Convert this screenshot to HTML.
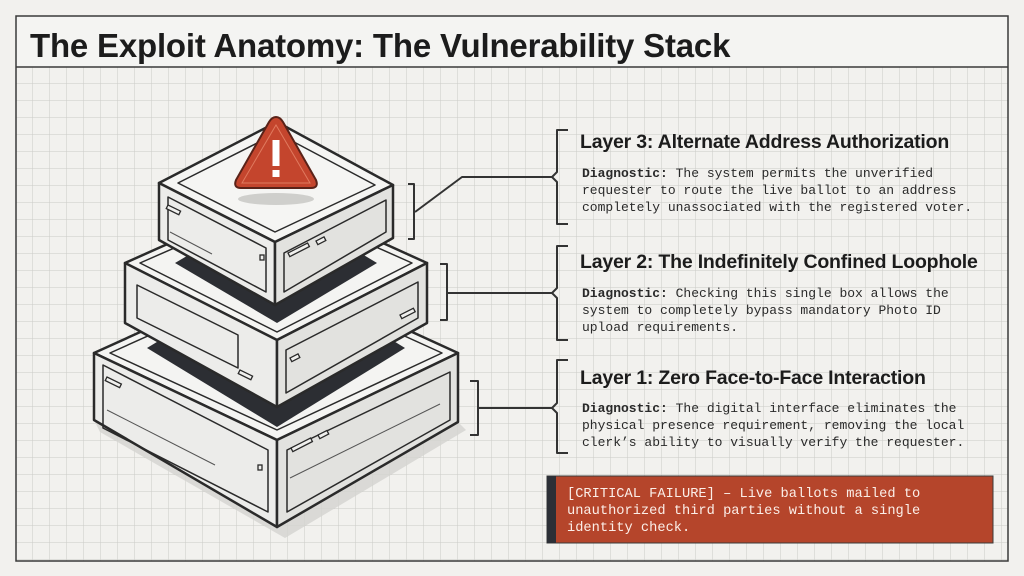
<!DOCTYPE html>
<html><head><meta charset="utf-8"><style>
html,body{margin:0;padding:0;background:#f2f1ee;}
svg{display:block}
.t{font-family:"Liberation Sans",sans-serif;font-weight:bold;fill:#1c1c1c}
.m{font-family:"Liberation Mono",monospace;font-size:13px;fill:#2a2a2a}
.w{font-family:"Liberation Mono",monospace;font-size:13.7px;fill:#fbeee8}
</style></head><body>
<svg width="1024" height="576" viewBox="0 0 1024 576" xmlns="http://www.w3.org/2000/svg">
<defs>
<pattern id="g" x="16" y="67" width="17" height="17" patternUnits="userSpaceOnUse">
<path d="M17 0V17M0 17H17" fill="none" stroke="#cbcbc7" stroke-width="1"/>
</pattern>
</defs>
<rect width="1024" height="576" fill="#f2f1ee"/>
<rect x="16" y="67" width="992" height="494" fill="url(#g)"/>
<rect x="16" y="16" width="992" height="51" fill="#f4f4f2"/>
<rect x="16" y="16" width="992" height="545" fill="none" stroke="#3a3a3a" stroke-width="1.5"/>
<line x1="16" y1="67" x2="1008" y2="67" stroke="#3a3a3a" stroke-width="1.5"/>
<text x="30" y="57" class="t" font-size="33" fill="#2a2d33" letter-spacing="-0.2">The Exploit Anatomy: The Vulnerability Stack</text>

<g stroke="#2a2a2a" stroke-width="2.5" stroke-linejoin="round" fill="none">
<!-- shadows -->
<polygon points="94,420 277,527 458,422 466,430 285,538 100,432" fill="#d3d3d0" stroke="none" opacity="0.8"/>
<!-- bottom box -->
<polygon points="94,353 277,270 458,353 277,440" fill="#f4f4f2"/>
<polygon points="94,353 277,440 277,527 94,420" fill="#ececea"/>
<polygon points="277,440 458,353 458,422 277,527" fill="#e2e2df"/>
<polygon points="110,353 277,278 442,353 277,430" stroke-width="1.5"/>
<polygon points="147,348 277,269 405,348 277,427" fill="#2c2e33" stroke="none"/>
<polygon points="103,365 268,450 268,512 103,428" stroke-width="1.5"/>
<polygon points="287,450 450,372 450,420 287,512" stroke-width="1.5"/>
<!-- middle box -->
<polygon points="125,263 277,195 427,263 277,340" fill="#f4f4f2"/>
<polygon points="125,263 277,340 277,407 125,323" fill="#ececea"/>
<polygon points="277,340 427,263 427,323 277,407" fill="#e2e2df"/>
<polygon points="140,263 277,203 412,263 277,332" stroke-width="1.5"/>
<polygon points="175,263 277,203 377,263 277,323" fill="#2c2e33" stroke="none"/>
<polygon points="137,285 238,335 238,368 137,318" stroke-width="1.5"/>
<polygon points="286,350 418,282 418,318 286,393" stroke-width="1.5"/>
<!-- top box -->
<polygon points="159,183 277,122 393,185 275,242" fill="#f5f5f3"/>
<polygon points="159,183 275,242 275,305 159,240" fill="#ececea"/>
<polygon points="275,242 393,185 393,238 275,305" fill="#e2e2df"/>
<polygon points="178,183 277,133 375,185 275,232" stroke-width="1.5"/>
<polygon points="168,197 266,248 266,292 168,240" stroke-width="1.5"/>
<polygon points="284,253 386,200 386,232 284,292" stroke-width="1.5"/>
</g>
<g stroke="#2a2a2a" stroke-width="1.3" fill="#f0f0ee">
<rect x="168" y="205" width="14" height="4" transform="rotate(26 168 205)"/>
<rect x="288" y="253" width="22" height="4" transform="rotate(-27 288 253)"/>
<rect x="316" y="241" width="9" height="4" transform="rotate(-27 316 241)"/>
<rect x="290" y="358" width="9" height="4" transform="rotate(-27 290 358)"/>
<rect x="400" y="315" width="15" height="4" transform="rotate(-27 400 315)"/>
<rect x="240" y="370" width="14" height="4" transform="rotate(26 240 370)"/>
<rect x="107" y="377" width="16" height="4" transform="rotate(26 107 377)"/>
<rect x="291" y="448" width="22" height="4" transform="rotate(-27 291 448)"/>
<rect x="318" y="435" width="10" height="4" transform="rotate(-27 318 435)"/>
<rect x="258" y="465" width="4" height="5"/>
<rect x="260" y="255" width="4" height="5"/>
</g>
<g stroke="#555" stroke-width="1" fill="none">
<line x1="170" y1="232" x2="212" y2="254"/>
<line x1="107" y1="410" x2="215" y2="465"/>
<line x1="290" y1="478" x2="440" y2="404"/>
</g>
<!-- warning -->
<ellipse cx="276" cy="199" rx="38" ry="6" fill="#cfcfcc"/>
<path d="M276,117 Q280,117 283,122 L316,180 Q319,188 311,188 L241,188 Q233,188 236,180 L269,122 Q272,117 276,117Z" fill="#c4452d" stroke="#5a2218" stroke-width="2"/>
<path d="M276,125 L310,183 L242,183Z" fill="none" stroke="#e07a5f" stroke-width="1"/>
<rect x="272.5" y="140" width="7" height="26" fill="#fff"/>
<rect x="272.5" y="170" width="7" height="7" fill="#fff"/>

<!-- connectors -->
<g stroke="#333" stroke-width="2" fill="none" stroke-linejoin="round">
<path d="M408,184 H414 V239 H408"/>
<path d="M415,212 L462,177 H552"/>
<path d="M440,264 H447 V320 H440"/>
<path d="M447,293 H552"/>
<path d="M470,381 H478 V435 H470"/>
<path d="M478,408 H552"/>
<path d="M568,130 H557 V172 L552,177 L557,182 V224 H568"/>
<path d="M568,246 H557 V288 L552,293 L557,298 V340 H568"/>
<path d="M568,360 H557 V403 L552,408 L557,413 V453 H568"/>
</g>

<text x="580" y="148" class="t" font-size="19.5" letter-spacing="-0.2">Layer 3: Alternate Address Authorization</text>
<text class="m"><tspan x="582" y="177"><tspan font-weight="bold">Diagnostic:</tspan> The system permits the unverified</tspan><tspan x="582" y="194">requester to route the live ballot to an address</tspan><tspan x="582" y="211">completely unassociated with the registered voter.</tspan></text>
<text x="580" y="268" class="t" font-size="19.5" letter-spacing="-0.2">Layer 2: The Indefinitely Confined Loophole</text>
<text class="m"><tspan x="582" y="297"><tspan font-weight="bold">Diagnostic:</tspan> Checking this single box allows the</tspan><tspan x="582" y="314">system to completely bypass mandatory Photo ID</tspan><tspan x="582" y="331">upload requirements.</tspan></text>
<text x="580" y="384" class="t" font-size="19.5" letter-spacing="-0.2">Layer 1: Zero Face-to-Face Interaction</text>
<text class="m"><tspan x="582" y="412"><tspan font-weight="bold">Diagnostic:</tspan> The digital interface eliminates the</tspan><tspan x="582" y="429">physical presence requirement, removing the local</tspan><tspan x="582" y="446">clerk’s ability to visually verify the requester.</tspan></text>

<rect x="547" y="476" width="446" height="67" fill="#b5452b" stroke="#3a3a3a" stroke-width="1"/>
<rect x="547" y="476" width="9" height="67" fill="#2c2f36"/>
<text class="w"><tspan x="567" y="497">[CRITICAL FAILURE] – Live ballots mailed to</tspan><tspan x="567" y="514">unauthorized third parties without a single</tspan><tspan x="567" y="531">identity check.</tspan></text>
</svg>
</body></html>
